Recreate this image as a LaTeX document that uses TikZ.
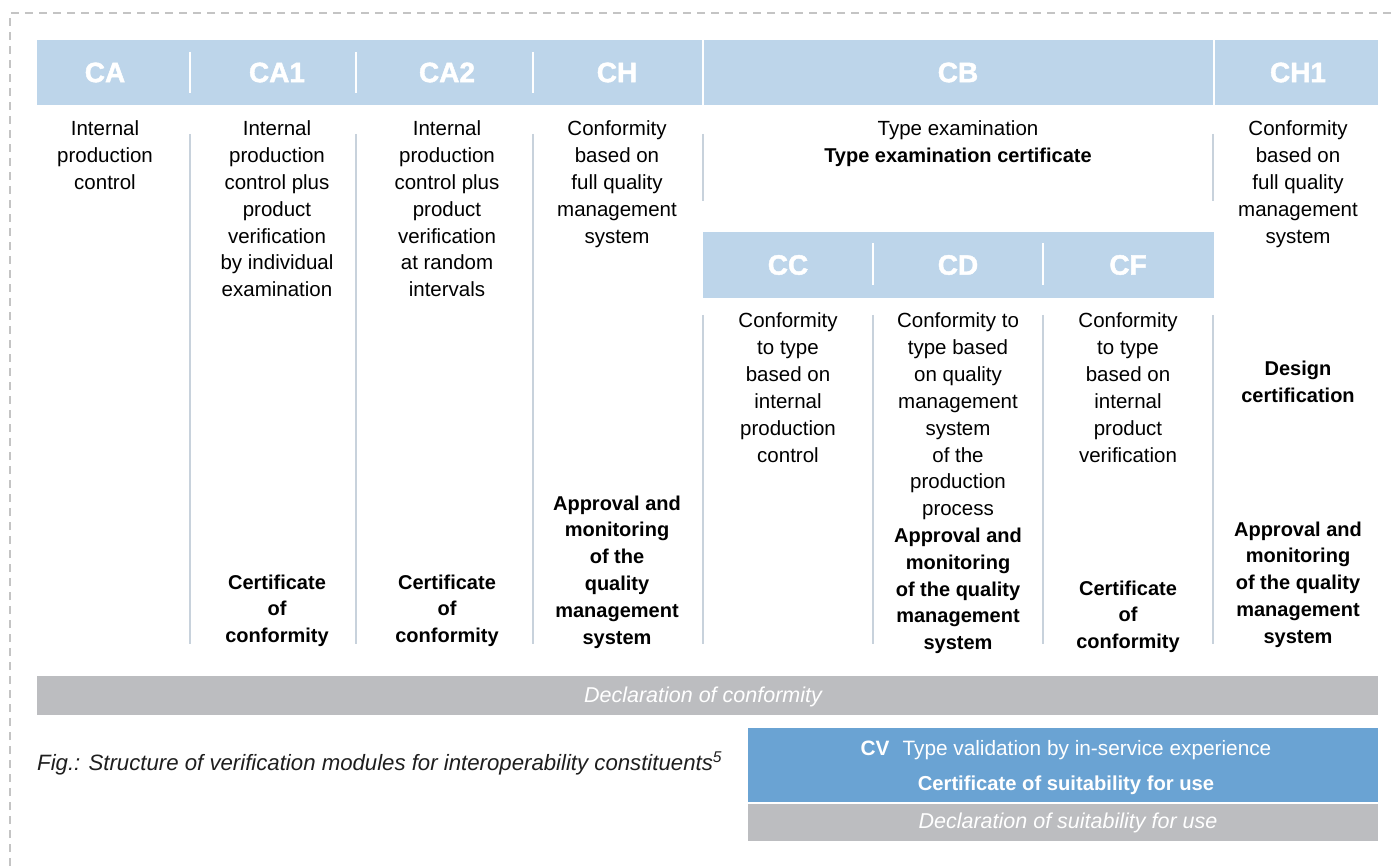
\documentclass[tikz,border=0pt]{standalone}
\usepackage{fontspec}
\setmainfont{Liberation Sans}
\newfontfamily\hdrfont{Liberation Sans}[BoldFeatures={FakeBold=1.6}]
\definecolor{hdrblue}{RGB}{189,213,234}
\definecolor{sepgray}{RGB}{200,210,220}
\definecolor{cvblue}{RGB}{106,163,211}
\definecolor{decgray}{RGB}{188,189,192}
\definecolor{dashgray}{RGB}{196,196,196}
\definecolor{captext}{RGB}{30,30,30}
\newcommand\colLines[5]{\foreach \l [count=\i] in {#5} {\node[#2, name=#1-\i] at (#3, {#4+(\i-1)*26.8}) {\l};}}
\begin{document}
\begin{tikzpicture}[x=1pt,y=-1pt,
  hlab/.style={font=\fontsize{28}{30}\hdrfont\bfseries, text=white, inner sep=0, anchor=center},
  sepline/.style={draw=sepgray, line width=2.2pt},
  wsep/.style={draw=white, line width=2.5pt},
  txt/.style={font=\fontsize{20.5}{26.8}\selectfont, anchor=base, inner sep=0, text=black},
  btxt/.style={font=\fontsize{20}{26.8}\selectfont\bfseries, anchor=base, inner sep=0, text=black},
  wtxt/.style={font=\fontsize{20.8}{24}\selectfont, anchor=base, inner sep=0, text=white}]
\useasboundingbox (0,0) rectangle (1395,866);
% dashed frame
\draw[dashgray, line width=2.6pt, dash pattern=on 8pt off 6pt] (10,866) -- (10,13) -- (1395,13);
% header bands
\fill[hdrblue] (37,40) rectangle (701.6,105);
\fill[hdrblue] (703.6,40) rectangle (1212.6,105);
\fill[hdrblue] (1214.6,40) rectangle (1378,105);
\fill[hdrblue] (703,232) rectangle (1214,298);
\foreach \x in {190,356,533} \draw[wsep] (\x,52) -- (\x,93);
\foreach \x in {873,1043} \draw[wsep] (\x,243) -- (\x,285);
% body separators
\foreach \x in {190,356,533} \draw[sepline] (\x,134) -- (\x,644);
\foreach \x in {703,1213} \draw[sepline] (\x,134) -- (\x,201);
\foreach \x in {703,873,1043,1213} \draw[sepline] (\x,315) -- (\x,644);
% header labels
\node[hlab] (hCA) at (105,72.5) {CA};
\node[hlab] (hCA1) at (277,72.5) {CA1};
\node[hlab] (hCA2) at (447,72.5) {CA2};
\node[hlab] (hCH) at (617,72.5) {CH};
\node[hlab] (hCB) at (958,72.5) {CB};
\node[hlab] (hCH1) at (1298,72.5) {CH1};
\node[hlab] (hCC) at (788,265) {CC};
\node[hlab] (hCD) at (958,265) {CD};
\node[hlab] (hCF) at (1128,265) {CF};
% column texts
\colLines{ca}{txt}{105}{136}{Internal,production,control}
\colLines{caa}{txt}{277}{136}{Internal,production,control plus,product,verification,by individual,examination}
\colLines{cab}{btxt}{277}{589}{Certificate,of,conformity}
\colLines{cba}{txt}{447}{136}{Internal,production,control plus,product,verification,at random,intervals}
\colLines{cbb}{btxt}{447}{589}{Certificate,of,conformity}
\colLines{cha}{txt}{617}{136}{Conformity,based on,full quality,management,system}
\colLines{chb}{btxt}{617}{510}{Approval and,monitoring,of the,quality,management,system}
\node[txt] (cb-1) at (958,136) {Type examination};
\node[btxt] (cb-2) at (958,162.8) {Type examination certificate};
\colLines{cia}{txt}{1298}{136}{Conformity,based on,full quality,management,system}
\colLines{cib}{btxt}{1298}{376}{Design,certification}
\colLines{cic}{btxt}{1298}{536}{Approval and,monitoring,of the quality,management,system}
\colLines{cc}{txt}{788}{328}{Conformity,to type,based on,internal,production,control}
\colLines{cda}{txt}{958}{328}{Conformity to,type based,on quality,management,system,of the,production,process}
\colLines{cdb}{btxt}{958}{542.4}{Approval and,monitoring,of the quality,management,system}
\colLines{cfa}{txt}{1128}{328}{Conformity,to type,based on,internal,product,verification}
\colLines{cfb}{btxt}{1128}{595}{Certificate,of,conformity}
% declaration bar
\fill[decgray] (37,676) rectangle (1378,715);
\node[wtxt, font=\fontsize{21.5}{24}\selectfont\itshape] (decl) at (703,702.5) {Declaration of conformity};
% caption
\node[anchor=base west, inner sep=0, text=captext, font=\fontsize{22.2}{24}\selectfont\itshape] (cap) at (37,770) {Fig.: Structure of verification modules for interoperability constituents\textsuperscript{5}};
% CV box
\fill[cvblue] (748,728) rectangle (1378,801.5);
\fill[decgray] (748,803.5) rectangle (1378,841);
\node[wtxt] (cv-1) at (1066,755.5) {\textbf{CV}\hspace{13pt}Type validation by in-service experience};
\node[wtxt, font=\fontsize{20.2}{24}\selectfont\bfseries] (cv-2) at (1066,790) {Certificate of suitability for use};
\node[wtxt, font=\fontsize{21.5}{24}\selectfont\itshape] (cv-3) at (1068,828.5) {Declaration of suitability for use};
\end{tikzpicture}
\end{document}
